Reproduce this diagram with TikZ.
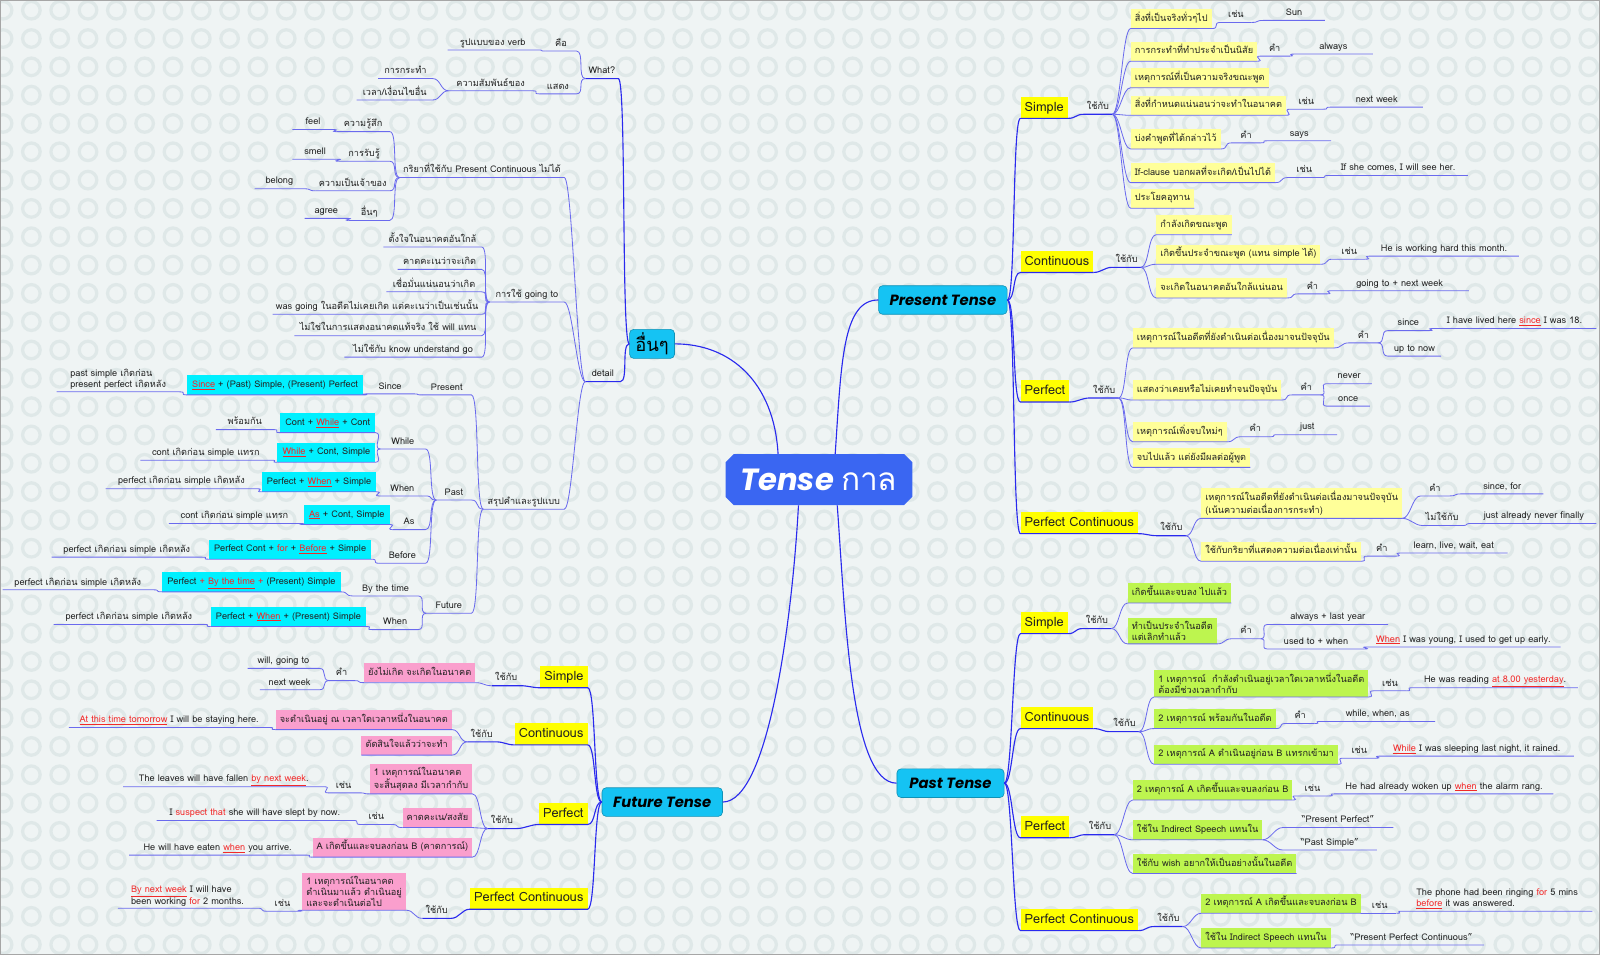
\documentclass[tikz,border=0pt]{standalone}
\usepackage{fontspec}
\setmainfont{Loma}[Script=Thai]
\newfontfamily\titlefont{Poppins}
\definecolor{bg}{HTML}{EFF4F4}
\definecolor{ring}{HTML}{DFE8E8}
\definecolor{mblue}{HTML}{2A2AEE}
\definecolor{lblue}{HTML}{6A6AEE}
\definecolor{ybox}{HTML}{FFFF00}
\definecolor{lyel}{HTML}{FFFF99}
\definecolor{lgreen}{HTML}{BDF54F}
\definecolor{pinkb}{HTML}{FA9FCD}
\definecolor{cyanb}{HTML}{00F0FF}
\definecolor{tcyan}{HTML}{15C3F3}
\definecolor{cblue}{HTML}{3A66F2}
\definecolor{hred}{HTML}{F22A2A}
\definecolor{txt}{HTML}{222222}
\newcommand\redu[1]{{\color{hred}\underline{#1}}}
\newcommand\redt[1]{{\color{hred}#1}}
\newcommand\conr[3][lline]{\draw[#1] (#2) .. controls +(8,0) and +(-8,0) .. (#3.south west) -- (#3.south east);}
\newcommand\conl[3][lline]{\draw[#1] (#2) .. controls +(-8,0) and +(8,0) .. (#3.south east) -- (#3.south west);}
\begin{document}
\begin{tikzpicture}[x=1pt,y=-1pt,
  every node/.style={font=\fontsize{9}{11}\selectfont, text=txt},
  ra/.style={anchor=south west}, la/.style={anchor=south east},
  lf/.style={inner xsep=3pt, inner ysep=2pt, text height=7.5pt, text depth=2.5pt},
  lfm/.style={inner xsep=3pt, inner ysep=2pt, align=left},
  boxs/.style={inner xsep=4pt, inner ysep=4.5pt, text height=7.5pt, text depth=2.5pt},
  boxm/.style={inner xsep=4pt, inner ysep=3pt, align=left},
  lyb/.style={boxs, fill=lyel}, lybm/.style={boxm, fill=lyel},
  gbx/.style={boxs, fill=lgreen}, gbxm/.style={boxm, fill=lgreen},
  pbx/.style={boxs, fill=pinkb}, pbxm/.style={boxm, fill=pinkb},
  cbx/.style={boxs, fill=cyanb, inner xsep=5pt},
  ybx/.style={fill=ybox, font=\fontsize{12.5}{14}\selectfont, inner xsep=4pt, inner ysep=4pt, text height=10pt, text depth=3pt},
  tnode/.style={fill=tcyan, draw=tcyan!75!black, line width=0.6pt, rounded corners=4pt, font=\titlefont\bfseries\itshape\fontsize{14.5}{16}\selectfont, minimum height=28pt, inner xsep=5pt, text=black},
  mline/.style={draw=mblue, line width=1.1pt},
  lline/.style={draw=lblue, line width=0.8pt},
]
\useasboundingbox (0,0) rectangle (1568,936);
\fill[bg] (0,0) rectangle (1568,936);
\begin{scope}
\clip (0,0) rectangle (1568,936);
\foreach \i in {0,...,56}{\foreach \j in {0,...,34}{\draw[ring, line width=3.2pt] (3+27.75*\i,10+27.75*\j) circle[radius=8.6pt];}}
\end{scope}
\draw[gray!70, line width=1.2pt] (0.6,0.6) rectangle (1567.4,935.4);

% central and main nodes
\fill[cblue] (719,445) -- (886,445) -- (894,453) -- (894,487) -- (886,495) -- (719,495) -- (711,487) -- (711,453) -- cycle;
\node[minimum width=183pt, minimum height=50pt, inner sep=0pt, text=white] (C) at (802.5,470) {{\titlefont\bfseries\itshape\fontsize{30}{34}\selectfont Tense}\hspace{7pt}{\fontsize{31}{34}\selectfont กาล}};
\node[tnode, minimum width=126pt] (PT) at (924,294) {Present Tense};
\node[tnode, minimum width=105pt] (PaT) at (931.5,767.5) {Past Tense};
\node[tnode, minimum width=118pt] (FT) at (649,786) {Future Tense};
\node[tnode, minimum width=44pt, font=\fontsize{18}{20}\selectfont, inner xsep=3pt] (O) at (639,337) {อื่นๆ};

\draw[mline] ([xshift=-40pt]C.north) .. controls +(-4,-70) and +(55,0) .. (O.east);
\draw[mline] ([xshift=16pt]C.north) .. controls +(6,-90) and +(-35,0) .. (PT.west);
\draw[mline] ([xshift=-20pt]C.south) .. controls +(-6,110) and +(45,0) .. (FT.east);
\draw[mline] ([xshift=18pt]C.south) .. controls +(8,110) and +(-45,0) .. (PaT.west);

% ===== Present Tense =====
\node[ybx,ra] (PS) at (1000,116) {Simple};
\node[lf,ra] (PSu) at (1062,112) {ใช้กับ};
\node[lyb,ra] (p1) at (1108,28) {สิ่งที่เป็นจริงทั่วๆไป};
\node[lf,ra,minimum width=30pt] (p1a) at (1196,22) {เช่น};
\node[lf,ra,minimum width=60pt] (p1b) at (1238,20) {Sun};
\node[lyb,ra] (p2) at (1108,60) {การกระทำที่ทำประจำเป็นนิสัย};
\node[lf,ra,minimum width=28pt] (p2a) at (1235,55) {คำ};
\node[lf,ra,minimum width=77pt] (p2b) at (1268,53) {always};
\node[lyb,ra] (p3) at (1108,86) {เหตุการณ์ที่เป็นความจริงขณะพูด};
\node[lyb,ra] (p4) at (1108,113) {สิ่งที่กำหนดแน่นอนว่าจะทำในอนาคต};
\node[lf,ra,minimum width=32pt] (p4a) at (1264,107) {เช่น};
\node[lf,ra,minimum width=90pt] (p4b) at (1304,105) {next week};
\node[lyb,ra] (p5) at (1108,146) {บ่งคำพูดที่ได้กล่าวไว้};
\node[lf,ra,minimum width=28pt] (p5a) at (1207,140) {คำ};
\node[lf,ra,minimum width=62pt] (p5b) at (1242,138) {says};
\node[lyb,ra] (p6) at (1108,179) {If-clause บอกผลที่จะเกิด/เป็นไปได้};
\node[lf,ra,minimum width=32pt] (p6a) at (1262,174) {เช่น};
\node[lf,ra,minimum width=136pt] (p6b) at (1302,172) {If she comes, I will see her.};
\node[lyb,ra] (p7) at (1108,204) {ประโยคอุทาน};

\node[ybx,ra] (PC) at (1000,267) {Continuous};
\node[lf,ra] (PCu) at (1090,262) {ใช้กับ};
\node[lyb,ra] (c1) at (1133,230) {กำลังเกิดขณะพูด};
\node[lyb,ra] (c2) at (1133,259) {เกิดขึ้นประจำขณะพูด (แทน simple ได้)};
\node[lf,ra,minimum width=32pt] (c2a) at (1306,254) {เช่น};
\node[lf,ra,minimum width=146pt] (c2b) at (1342,251) {He is working hard this month.};
\node[lyb,ra] (c3) at (1133,292) {จะเกิดในอนาคตอันใกล้แน่นอน};
\node[lf,ra,minimum width=28pt] (c3a) at (1272,288) {คำ};
\node[lf,ra,minimum width=135pt] (c3b) at (1304,285) {going to + next week};

\node[ybx,ra] (PP) at (1000,394) {Perfect};
\node[lf,ra] (PPu) at (1068,390) {ใช้กับ};
\node[lyb,ra] (f1) at (1110,341) {เหตุการณ์ในอดีตที่ยังดำเนินต่อเนื่องมาจนปัจจุบัน};
\node[lf,ra,minimum width=28pt] (f1a) at (1322,336) {คำ};
\node[lf,ra,minimum width=40pt] (f1b) at (1360,324) {since};
\node[lf,ra,minimum width=160pt] (f1c) at (1404,322) {I have lived here \redu{since} I was 18.};
\node[lf,ra,minimum width=52pt] (f1d) at (1360,349) {up to now};
\node[lyb,ra] (f2) at (1110,392) {แสดงว่าเคยหรือไม่เคยทำจนปัจจุบัน};
\node[lf,ra,minimum width=28pt] (f2a) at (1266,387) {คำ};
\node[lf,ra,minimum width=44pt] (f2b) at (1300,376) {never};
\node[lf,ra,minimum width=42pt] (f2c) at (1300,398) {once};
\node[lyb,ra] (f3) at (1110,433) {เหตุการณ์เพิ่งจบใหม่ๆ};
\node[lf,ra,minimum width=28pt] (f3a) at (1216,428) {คำ};
\node[lf,ra,minimum width=58pt] (f3b) at (1252,426) {just};
\node[lyb,ra] (f4) at (1110,458) {จบไปแล้ว แต่ยังมีผลต่อผู้พูด};

\node[ybx,ra] (PPC) at (1000,523) {Perfect Continuous};
\node[lf,ra] (PPCu) at (1134,525) {ใช้กับ};
\node[lybm,ra] (g1) at (1177,508) {เหตุการณ์ในอดีตที่ยังดำเนินต่อเนื่องมาจนปัจจุบัน\\(เน้นความต่อเนื่องการกระทำ)};
\node[lf,ra,minimum width=28pt] (g1a) at (1392,486) {คำ};
\node[lf,ra,minimum width=80pt] (g1b) at (1432,484) {since, for};
\node[lf,ra] (g1c) at (1394,515) {ไม่ใช้กับ};
\node[lf,ra,minimum width=122pt] (g1d) at (1442,513) {just already never finally};
\node[lyb,ra] (g2) at (1177,550) {ใช้กับกริยาที่แสดงความต่อเนื่องเท่านั้น};
\node[lf,ra,minimum width=28pt] (g2a) at (1340,545) {คำ};
\node[lf,ra,minimum width=105pt] (g2b) at (1372,542) {learn, live, wait, eat};

\conr[mline]{PT.east}{PS}
\conr[mline]{PT.east}{PC}
\conr[mline]{PT.east}{PP}
\conr[mline]{PT.east}{PPC}
\conr[mline]{PS.south east}{PSu}
\conr[mline]{PC.south east}{PCu}
\conr[mline]{PP.south east}{PPu}
\conr[mline]{PPC.south east}{PPCu}
\foreach \n in {p1,p2,p3,p4,p5,p6,p7}{\conr{PSu.south east}{\n}}
\conr{p1.south east}{p1a}\conr{p1a.south east}{p1b}
\conr{p2.south east}{p2a}\conr{p2a.south east}{p2b}
\conr{p4.south east}{p4a}\conr{p4a.south east}{p4b}
\conr{p5.south east}{p5a}\conr{p5a.south east}{p5b}
\conr{p6.south east}{p6a}\conr{p6a.south east}{p6b}
\foreach \n in {c1,c2,c3}{\conr{PCu.south east}{\n}}
\conr{c2.south east}{c2a}\conr{c2a.south east}{c2b}
\conr{c3.south east}{c3a}\conr{c3a.south east}{c3b}
\foreach \n in {f1,f2,f3,f4}{\conr{PPu.south east}{\n}}
\conr{f1.south east}{f1a}\conr{f1a.south east}{f1b}\conr{f1b.south east}{f1c}\conr{f1a.south east}{f1d}
\conr{f2.south east}{f2a}\conr{f2a.south east}{f2b}\conr{f2a.south east}{f2c}
\conr{f3.south east}{f3a}\conr{f3a.south east}{f3b}
\foreach \n in {g1,g2}{\conr{PPCu.south east}{\n}}
\conr{g1.south east}{g1a}\conr{g1a.south east}{g1b}
\conr{g1.south east}{g1c}\conr{g1c.south east}{g1d}
\conr{g2.south east}{g2a}\conr{g2a.south east}{g2b}

% ===== Past Tense =====
\node[ybx,ra] (QS) at (1000,621) {Simple};
\node[lf,ra] (QSu) at (1061,616) {ใช้กับ};
\node[gbx,ra] (s1) at (1105,591) {เกิดขึ้นและจบลง ไปแล้ว};
\node[gbxm,ra] (s2) at (1105,631) {ทำเป็นประจำในอดีต\\แต่เลิกทำแล้ว};
\node[lf,ra,minimum width=28pt] (s2a) at (1207,626) {คำ};
\node[lf,ra,minimum width=118pt] (s2b) at (1242,612) {always + last year};
\node[lf,ra,minimum width=95pt] (s2c) at (1242,636) {used to + when};
\node[lf,ra,minimum width=190pt] (s2d) at (1339,634) {\redu{When} I was young, I used to get up early.};

\node[ybx,ra] (QC) at (1000,714) {Continuous};
\node[lf,ra] (QCu) at (1088,717) {ใช้กับ};
\node[gbxm,ra] (q1) at (1131,683) {1 เหตุการณ์ \ กำลังดำเนินอยู่เวลาใดเวลาหนึ่งในอดีต\\ต้องมีช่วงเวลากำกับ};
\node[lf,ra,minimum width=32pt] (q1a) at (1346,677) {เช่น};
\node[lf,ra,minimum width=162pt] (q1b) at (1384,674) {He was reading \redu{at 8.00 yesterday}.};
\node[gbx,ra] (q2) at (1131,714) {2 เหตุการณ์ พร้อมกันในอดีต};
\node[lf,ra,minimum width=28pt] (q2a) at (1260,709) {คำ};
\node[lf,ra,minimum width=112pt] (q2b) at (1294,707) {while, when, as};
\node[gbx,ra] (q3) at (1131,749) {2 เหตุการณ์ A ดำเนินอยู่ก่อน B แทรกเข้ามา};
\node[lf,ra,minimum width=32pt] (q3a) at (1316,743) {เช่น};
\node[lf,ra,minimum width=190pt] (q3b) at (1352,741) {\redu{While} I was sleeping last night, it rained.};

\node[ybx,ra] (QP) at (1000,821) {Perfect};
\node[lf,ra] (QPu) at (1064,818) {ใช้กับ};
\node[gbx,ra] (r1) at (1110,784) {2 เหตุการณ์ A เกิดขึ้นและจบลงก่อน B};
\node[lf,ra,minimum width=32pt] (r1a) at (1270,780) {เช่น};
\node[lf,ra,minimum width=214pt] (r1b) at (1308,778) {He had already woken up \redu{when} the alarm rang.};
\node[gbx,ra] (r2) at (1110,823) {ใช้ใน Indirect Speech แทนใน};
\node[lf,ra,minimum width=108pt] (r2a) at (1257,811) {``Present Perfect''};
\node[lf,ra,minimum width=92pt] (r2b) at (1257,833) {``Past Simple''};
\node[gbx,ra] (r3) at (1110,856) {ใช้กับ wish อยากให้เป็นอย่างนั้นในอดีต};

\node[ybx,ra] (QPC) at (1000,912) {Perfect Continuous};
\node[lf,ra] (QPCu) at (1131,908) {ใช้กับ};
\node[gbx,ra] (u1) at (1177,895) {2 เหตุการณ์ A เกิดขึ้นและจบลงก่อน B};
\node[lf,ra,minimum width=32pt] (u1a) at (1336,895) {เช่น};
\node[lfm,ra,minimum width=186pt] (u1b) at (1374,893) {The phone had been ringing \redt{for} 5 mins\\\redu{before} it was answered.};
\node[gbx,ra] (u2) at (1177,929) {ใช้ใน Indirect Speech แทนใน};
\node[lf,ra,minimum width=142pt] (u2a) at (1312,926) {``Present Perfect Continuous''};

\conr[mline]{PaT.east}{QS}
\conr[mline]{PaT.east}{QC}
\conr[mline]{PaT.east}{QP}
\conr[mline]{PaT.east}{QPC}
\conr[mline]{QS.south east}{QSu}
\conr[mline]{QC.south east}{QCu}
\conr[mline]{QP.south east}{QPu}
\conr[mline]{QPC.south east}{QPCu}
\foreach \n in {s1,s2}{\conr{QSu.south east}{\n}}
\conr{s2.south east}{s2a}\conr{s2a.south east}{s2b}\conr{s2a.south east}{s2c}\conr{s2c.south east}{s2d}
\foreach \n in {q1,q2,q3}{\conr{QCu.south east}{\n}}
\conr{q1.south east}{q1a}\conr{q1a.south east}{q1b}
\conr{q2.south east}{q2a}\conr{q2a.south east}{q2b}
\conr{q3.south east}{q3a}\conr{q3a.south east}{q3b}
\foreach \n in {r1,r2,r3}{\conr{QPu.south east}{\n}}
\conr{r1.south east}{r1a}\conr{r1a.south east}{r1b}
\conr{r2.south east}{r2a}\conr{r2.south east}{r2b}
\foreach \n in {u1,u2}{\conr{QPCu.south east}{\n}}
\conr{u1.south east}{u1a}\conr{u1a.south east}{u1b}
\conr{u2.south east}{u2a}

% ===== อื่นๆ =====
\node[lf,la,minimum width=32pt] (W) at (606,77) {What?};
\node[lf,la,minimum width=30pt] (Wa) at (565,50) {คือ};
\node[lf,la,minimum width=88pt] (Wa1) at (527,49) {รูปแบบของ verb};
\node[lf,la,minimum width=36pt] (Wb) at (565,92) {แสดง};
\node[lf,la,minimum width=82pt] (Wb1) at (522,89) {ความสัมพันธ์ของ};
\node[lf,la,minimum width=53pt] (Wb1a) at (424,77) {การกระทำ};
\node[lf,la,minimum width=74pt] (Wb1b) at (424,98) {เวลา/เงื่อนไขอื่น};
\node[lf,la,minimum width=34pt] (D) at (608,374) {detail};
\node[lf,la,minimum width=161pt] (D1) at (553,174) {กริยาที่ใช้กับ Present Continuous ไม่ได้};
\node[lf,la,minimum width=52pt] (D1a) at (382,129) {ความรู้สึก};
\node[lf,la,minimum width=40pt] (D1a1) at (327,127) {feel};
\node[lf,la,minimum width=50pt] (D1b) at (382,158) {การรับรู้};
\node[lf,la,minimum width=44pt] (D1b1) at (331,156) {smell};
\node[lf,la,minimum width=70pt] (D1c) at (382,187) {ความเป็นเจ้าของ};
\node[lf,la,minimum width=48pt] (D1c1) at (298,185) {belong};
\node[lf,la,minimum width=40pt] (D1d) at (382,216) {อื่นๆ};
\node[lf,la,minimum width=42pt] (D1d1) at (341,214) {agree};
\node[lf,la,minimum width=73pt] (D2) at (553,296) {การใช้ going to};
\node[lf,la,minimum width=96pt] (G1) at (472,242) {ตั้งใจในอนาคตอันใกล้};
\node[lf,la,minimum width=82pt] (G2) at (472,264) {คาดคะเนว่าจะเกิด};
\node[lf,la,minimum width=93pt] (G3) at (472,286) {เชื่อมั่นแน่นอนว่าเกิด};
\node[lf,la,minimum width=202pt] (G4) at (472,308) {was going ในอดีตไม่เคยเกิด แต่คะเนว่าเป็นเช่นนั้น};
\node[lf,la,minimum width=183pt] (G5) at (472,329) {ไม่ใช่ในการแสดงอนาคตแท้จริง ใช้ will แทน};
\node[lf,la,minimum width=134pt] (G6) at (472,350) {ไม่ใช้กับ know understand go};
\node[lf,la,minimum width=79pt] (D3) at (553,499) {สรุปคำและรูปแบบ};
\node[lf,la,minimum width=48pt] (E1) at (462,387) {Present};
\node[lf,la,minimum width=45pt] (E1a) at (405,386) {Since};
\node[cbx,la] (E1b) at (356,387) {\redu{Since} + (Past) Simple, (Present) Perfect};
\node[lfm,la,minimum width=120pt] (E1c) at (176,384) {past simple เกิดก่อน\\present perfect เกิดหลัง};
\node[lf,la,minimum width=34pt] (E2) at (462,490) {Past};
\node[lf,la,minimum width=44pt] (E2a) at (417,440) {While};
\node[cbx,la] (E2a1) at (368,424) {Cont + \redu{While} + Cont};
\node[lf,la,minimum width=56pt] (E2a1a) at (268,421) {พร้อมกัน};
\node[cbx,la] (E2a2) at (368,453) {\redu{While} + Cont, Simple};
\node[lf,la,minimum width=128pt] (E2a2a) at (266,451) {cont เกิดก่อน simple แทรก};
\node[lf,la,minimum width=45pt] (E2b) at (417,486) {When};
\node[cbx,la] (E2b1) at (369,482) {Perfect + \redu{When} + Simple};
\node[lf,la,minimum width=148pt] (E2b1a) at (252,479) {perfect เกิดก่อน simple เกิดหลัง};
\node[lf,la,minimum width=32pt] (E2c) at (417,519) {As};
\node[cbx,la] (E2c1) at (382,514) {\redu{As} + Cont, Simple};
\node[lf,la,minimum width=128pt] (E2c1a) at (294,513) {cont เกิดก่อน simple แทรก};
\node[lf,la,minimum width=45pt] (E2d) at (417,552) {Before};
\node[cbx,la] (E2d1) at (364,548) {Perfect Cont + \redt{for} + \redu{Before} + Simple};
\node[lf,la,minimum width=147pt] (E2d1a) at (198,546) {perfect เกิดก่อน simple เกิดหลัง};
\node[lf,la,minimum width=44pt] (E3) at (462,601) {Future};
\node[lf,la,minimum width=64pt] (E3a) at (410,584) {By the time};
\node[cbx,la] (E3a1) at (334,580) {Perfect \redt{+} \redu{By the time} \redt{+} (Present) Simple};
\node[lf,la,minimum width=147pt] (E3a1a) at (150,578) {perfect เกิดก่อน simple เกิดหลัง};
\node[lf,la,minimum width=45pt] (E3b) at (410,617) {When};
\node[cbx,la] (E3b1) at (359,614) {Perfect + \redu{When} + (Present) Simple};
\node[lf,la,minimum width=147pt] (E3b1a) at (200,612) {perfect เกิดก่อน simple เกิดหลัง};

\conl[mline]{O.west}{W}
\conl[mline]{O.west}{D}
\conl{W.south west}{Wa}\conl{W.south west}{Wb}
\conl{Wa.south west}{Wa1}\conl{Wb.south west}{Wb1}
\conl{Wb1.south west}{Wb1a}\conl{Wb1.south west}{Wb1b}
\foreach \n in {D1,D2,D3}{\conl{D.south west}{\n}}
\foreach \n in {D1a,D1b,D1c,D1d}{\conl{D1.south west}{\n}}
\conl{D1a.south west}{D1a1}\conl{D1b.south west}{D1b1}\conl{D1c.south west}{D1c1}\conl{D1d.south west}{D1d1}
\foreach \n in {G1,G2,G3,G4,G5,G6}{\conl{D2.south west}{\n}}
\foreach \n in {E1,E2,E3}{\conl{D3.south west}{\n}}
\conl{E1.south west}{E1a}\conl{E1a.south west}{E1b}\conl{E1b.south west}{E1c}
\foreach \n in {E2a,E2b,E2c,E2d}{\conl{E2.south west}{\n}}
\conl{E2a.south west}{E2a1}\conl{E2a.south west}{E2a2}
\conl{E2a1.south west}{E2a1a}\conl{E2a2.south west}{E2a2a}
\conl{E2b.south west}{E2b1}\conl{E2b1.south west}{E2b1a}
\conl{E2c.south west}{E2c1}\conl{E2c1.south west}{E2c1a}
\conl{E2d.south west}{E2d1}\conl{E2d1.south west}{E2d1a}
\conl{E3.south west}{E3a}\conl{E3.south west}{E3b}
\conl{E3a.south west}{E3a1}\conl{E3a1.south west}{E3a1a}
\conl{E3b.south west}{E3b1}\conl{E3b1.south west}{E3b1a}

% ===== Future Tense =====
\node[ybx,la] (FS) at (576,674) {Simple};
\node[lf,la] (FSu) at (510,672) {ใช้กับ};
\node[pbx,la] (FS1) at (466,669) {ยังไม่เกิด จะเกิดในอนาคต};
\node[lf,la,minimum width=24pt] (FS1a) at (347,667) {คำ};
\node[lf,la,minimum width=70pt] (FS1a1) at (313,655) {will, going to};
\node[lf,la,minimum width=58pt] (FS1a2) at (313,676) {next week};
\node[ybx,la] (FC) at (576,730) {Continuous};
\node[lf,la] (FCu) at (486,727) {ใช้กับ};
\node[pbx,la] (FC1) at (443,715) {จะดำเนินอยู่ ณ เวลาใดเวลาหนึ่งในอนาคต};
\node[lf,la,minimum width=196pt] (FC1a) at (264,713) {\redu{At this time tomorrow} I will be staying here.};
\node[pbx,la] (FC2) at (443,740) {ตัดสินใจแล้วว่าจะทำ};
\node[ybx,la] (FP) at (576,808) {Perfect};
\node[lf,la] (FPu) at (506,812) {ใช้กับ};
\node[pbxm,la] (FP1) at (463,778) {1 เหตุการณ์ในอนาคต\\จะสิ้นสุดลง มีเวลากำกับ};
\node[lf,la,minimum width=30pt] (FP1a) at (352,777) {เช่น};
\node[lf,la,minimum width=197pt] (FP1a1) at (318,771) {The leaves will have fallen \redu{by next week}.};
\node[pbx,la] (FP2) at (463,811) {คาดคะเน/สงสัย};
\node[lf,la,minimum width=30pt] (FP2a) at (384,808) {เช่น};
\node[lf,la,minimum width=192pt] (FP2a1) at (346,804) {I \redt{suspect that} she will have slept by now.};
\node[pbx,la] (FP3) at (463,840) {A เกิดขึ้นและจบลงก่อน B (คาดการณ์)};
\node[lf,la,minimum width=173pt] (FP3a1) at (300,838) {He will have eaten \redu{when} you arrive.};
\node[ybx,la] (FPC) at (576,891) {Perfect Continuous};
\node[lf,la] (FPCu) at (442,900) {ใช้กับ};
\node[pbxm,la] (FPC1) at (398,892) {1 เหตุการณ์ในอนาคต\\ดำเนินมาแล้ว ดำเนินอยู่\\และจะดำเนินต่อไป};
\node[lf,la,minimum width=30pt] (FPC1a) at (292,893) {เช่น};
\node[lfm,la,minimum width=136pt] (FPC1a1) at (252,890) {\redu{By next week} I will have\\been working \redt{for} 2 months.};

\conl[mline]{FT.west}{FS}
\conl[mline]{FT.west}{FC}
\conl[mline]{FT.west}{FP}
\conl[mline]{FT.west}{FPC}
\conl[mline]{FS.south west}{FSu}
\conl[mline]{FC.south west}{FCu}
\conl[mline]{FP.south west}{FPu}
\conl[mline]{FPC.south west}{FPCu}
\conl{FSu.south west}{FS1}\conl{FS1.south west}{FS1a}
\conl{FS1a.south west}{FS1a1}\conl{FS1a.south west}{FS1a2}
\conl{FCu.south west}{FC1}\conl{FCu.south west}{FC2}\conl{FC1.south west}{FC1a}
\conl{FPu.south west}{FP1}\conl{FPu.south west}{FP2}\conl{FPu.south west}{FP3}
\conl{FP1.south west}{FP1a}\conl{FP1a.south west}{FP1a1}
\conl{FP2.south west}{FP2a}\conl{FP2a.south west}{FP2a1}
\conl{FP3.south west}{FP3a1}
\conl{FPCu.south west}{FPC1}\conl{FPC1.south west}{FPC1a}\conl{FPC1a.south west}{FPC1a1}
\end{tikzpicture}
\end{document}
